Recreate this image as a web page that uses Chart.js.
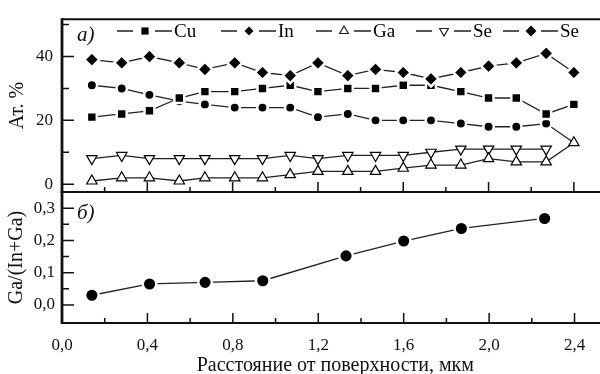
<!DOCTYPE html>
<html>
<head>
<meta charset="utf-8">
<script src="https://cdn.jsdelivr.net/npm/chart.js"></script>
<style>
  html, body { margin: 0; padding: 0; background: #fff; }
  #wrap { position: relative; width: 600px; height: 374px; overflow: hidden; }
  #wrap canvas { position: absolute; left: 0; top: 0; }
</style>
</head>
<body>
<div id="wrap">
  <canvas id="topChart" width="618" height="374"></canvas>
  <canvas id="bottomChart" width="618" height="374"></canvas>
</div>
<script>
// depth below surface, um
const depth = [0.14, 0.28, 0.41, 0.55, 0.67, 0.81, 0.94, 1.07, 1.2, 1.34, 1.47, 1.6, 1.73, 1.87, 2.0, 2.13, 2.27, 2.4];
const cuPct = [21, 22, 23, 27, 29, 29, 30, 31, 29, 30, 30, 31, 31, 29, 27, 27, 22, 25];
const inPct = [31, 30, 28, 26, 25, 24, 24, 24, 21, 22, 20, 20, 20, 19, 18, 18, 19, 13];
const gaPct = [1, 2, 2, 1, 2, 2, 2, 3, 4, 4, 4, 5, 6, 6, 8, 7, 7, 13];
const seOpenPct = [8, 9, 8, 8, 8, 8, 8, 9, 8, 9, 9, 9, 10, 11, 11, 11, 11];
const sePct = [39, 38, 40, 38, 36, 38, 35, 34, 38, 34, 36, 35, 33, 35, 37, 38, 41, 35];

const ratioDepth = [0.14, 0.41, 0.67, 0.94, 1.33, 1.6, 1.87, 2.26];
const gaRatio = [0.03, 0.065, 0.07, 0.075, 0.152, 0.198, 0.237, 0.268];

const xTicks = [0, 0.2, 0.4, 0.6, 0.8, 1.0, 1.2, 1.4, 1.6, 1.8, 2.0, 2.2, 2.4];
const topYTicks = [0, 10, 20, 30, 40, 50];
const bottomYTicks = [0, 0.05, 0.1, 0.15, 0.2, 0.25, 0.3, 0.35];
const legendNames = ['Cu', 'In', 'Ga', 'Se', 'Se'];

const SERIF = '"Liberation Serif", "Times New Roman", serif';
const INK = '#111';
const LINE = '#222';

const isStep = (v, step) => Math.abs(v / step - Math.round(v / step)) < 1e-6;
const comma = (v, d) => v.toFixed(d).replace('.', ',');
const toXY = (xs, ys) => ys.map((y, i) => ({ x: xs[i], y }));

// small marker shapes for the in-plot legend
function marker(ctx, style, x, y, r) {
  ctx.beginPath();
  if (style === 'rect') {
    ctx.rect(x - r, y - r, 2 * r, 2 * r);
    ctx.fill();
  } else if (style === 'diamond') {
    ctx.moveTo(x, y - r); ctx.lineTo(x + r, y); ctx.lineTo(x, y + r); ctx.lineTo(x - r, y); ctx.closePath();
    ctx.fill();
  } else if (style === 'up' || style === 'down') {
    const s = style === 'up' ? 1 : -1;
    ctx.moveTo(x, y - s * r);
    ctx.lineTo(x + r * 0.87, y + s * r * 0.5);
    ctx.lineTo(x - r * 0.87, y + s * r * 0.5);
    ctx.closePath();
    ctx.fillStyle = '#fff';
    ctx.fill();
    ctx.lineWidth = 1.2;
    ctx.stroke();
  }
}

// inward ticks, frame lines and the panel letter
const panelDecor = {
  id: 'panelDecor',
  afterDraw(chart, args, opts) {
    const { ctx, chartArea: a, scales } = chart;
    ctx.save();
    ctx.strokeStyle = INK;
    ctx.lineWidth = 1.5;
    ctx.beginPath();
    scales.x.ticks.forEach(t => {
      const px = scales.x.getPixelForValue(t.value);
      const len = isStep(t.value, opts.majorX) ? 10 : 5;
      ctx.moveTo(px, a.bottom);
      ctx.lineTo(px, a.bottom - len);
    });
    scales.y.ticks.forEach(t => {
      const py = scales.y.getPixelForValue(t.value);
      const len = isStep(t.value, opts.majorY) ? 12 : 7;
      ctx.moveTo(a.left, py);
      ctx.lineTo(a.left + len, py);
    });
    ctx.stroke();

    ctx.lineWidth = 2;
    ctx.beginPath();
    ctx.moveTo(a.left, a.bottom); ctx.lineTo(a.right, a.bottom);
    if (opts.topBorder) { ctx.moveTo(a.left, a.top); ctx.lineTo(a.right, a.top); }
    ctx.stroke();
    ctx.lineWidth = 2.8;
    ctx.beginPath();
    ctx.moveTo(a.left, a.top - 1); ctx.lineTo(a.left, a.bottom + 1);
    ctx.stroke();

    ctx.fillStyle = INK;
    ctx.font = 'italic 21px ' + SERIF;
    ctx.textBaseline = 'middle';
    ctx.fillText(opts.label, a.left + 15, a.top + opts.labelDy);
    ctx.restore();
  }
};

// legend row inside the top panel
const rowLegend = {
  id: 'rowLegend',
  afterDraw(chart, args, opts) {
    if (!opts.items) return;
    const { ctx } = chart;
    ctx.save();
    ctx.strokeStyle = LINE;
    ctx.fillStyle = '#000';
    ctx.font = '19px ' + SERIF;
    ctx.textBaseline = 'middle';
    opts.items.forEach((it, i) => {
      const sx = it.x, y = opts.y;
      ctx.lineWidth = 1.3;
      ctx.beginPath();
      ctx.moveTo(sx, y); ctx.lineTo(sx + 16, y);
      ctx.moveTo(sx + 38, y); ctx.lineTo(sx + 55, y);
      ctx.stroke();
      ctx.fillStyle = '#000';
      marker(ctx, it.style, sx + 28, y, it.r);
      ctx.fillStyle = '#000';
      ctx.fillText(legendNames[i], sx + 57, y + 1);
    });
    ctx.restore();
  }
};

const tickFont = { family: SERIF, size: 17 };
const titleFont = { family: SERIF, size: 20 };

function xScale(showLabels) {
  return {
    type: 'linear', min: 0, max: 2.56,
    afterBuildTicks: s => { s.ticks = xTicks.map(v => ({ value: v })); },
    afterFit: s => { s.height = showLabels ? 51 : 0; },
    grid: { display: false, drawTicks: false },
    border: { display: false },
    ticks: {
      display: showLabels, autoSkip: false, maxRotation: 0, padding: 12,
      color: INK, font: tickFont,
      callback: v => isStep(v, 0.4) ? comma(v, 1) : ''
    },
    title: {
      display: showLabels, text: 'Расстояние от поверхности, мкм',
      color: INK, font: titleFont, padding: { top: 0, bottom: -4 }
    }
  };
}

const filledPoint = {
  pointBackgroundColor: '#000',
  pointBorderColor: '#fff',
  pointBorderWidth: 2.5,
  borderColor: LINE,
  borderWidth: 1.3
};
const openPoint = {
  pointBackgroundColor: '#fff',
  pointBorderColor: '#000',
  pointBorderWidth: 1.2,
  borderColor: LINE,
  borderWidth: 1.3
};

new Chart(document.getElementById('topChart'), {
  type: 'line',
  data: {
    datasets: [
      { label: 'Se', data: toXY(depth, sePct), ...filledPoint, pointStyle: 'rectRot', pointRadius: 7.5 },
      { label: 'Cu', data: toXY(depth, cuPct), ...filledPoint, pointStyle: 'rect', pointRadius: 7 },
      { label: 'Ga', data: toXY(depth, gaPct), ...openPoint, pointStyle: 'triangle', pointRadius: 6 },
      { label: 'Se', data: toXY(depth, seOpenPct), ...openPoint, pointStyle: 'triangle', pointRotation: 180, pointRadius: 6 },
      { label: 'In', data: toXY(depth, inPct), ...filledPoint, pointStyle: 'circle',
        pointRadius: c => c.dataIndex === inPct.length - 1 ? 0 : 5.2 }
    ]
  },
  options: {
    responsive: false,
    devicePixelRatio: 1,
    animation: false,
    events: [],
    layout: { padding: { top: 15, right: 0, bottom: 182, left: 0 } },
    plugins: {
      legend: { display: false },
      tooltip: { enabled: false },
      panelDecor: { label: 'a)', labelDy: 16, majorX: 0.4, majorY: 20, topBorder: true },
      rowLegend: {
        y: 31,
        items: [
          { x: 117, style: 'rect', r: 3.6 },
          { x: 221, style: 'diamond', r: 4.5 },
          { x: 316, style: 'up', r: 5 },
          { x: 416, style: 'down', r: 5 },
          { x: 503, style: 'diamond', r: 5.5 }
        ]
      }
    },
    scales: {
      x: xScale(false),
      y: {
        min: -2.45, max: 51.7,
        afterBuildTicks: s => { s.ticks = topYTicks.map(v => ({ value: v })); },
        afterFit: s => { s.width = 62; },
        grid: { display: false, drawTicks: false },
        border: { display: false },
        ticks: {
          autoSkip: false, padding: 9, color: INK, font: tickFont,
          callback: v => isStep(v, 20) ? String(v) : ''
        },
        title: { display: true, text: 'Ат. %', color: INK, font: titleFont, padding: { top: 6, bottom: 0 } }
      }
    }
  },
  plugins: [panelDecor, rowLegend]
});

new Chart(document.getElementById('bottomChart'), {
  type: 'line',
  data: {
    datasets: [
      { label: 'Ga/(In+Ga)', data: toXY(ratioDepth, gaRatio), ...filledPoint, pointStyle: 'circle', pointRadius: 6.8 }
    ]
  },
  options: {
    responsive: false,
    devicePixelRatio: 1,
    animation: false,
    events: [],
    layout: { padding: { top: 192, right: 0, bottom: 0, left: 0 } },
    plugins: {
      legend: { display: false },
      tooltip: { enabled: false },
      panelDecor: { label: 'б)', labelDy: 21, majorX: 0.4, majorY: 0.1, topBorder: true }
    },
    scales: {
      x: xScale(true),
      y: {
        min: -0.056, max: 0.35,
        afterBuildTicks: s => { s.ticks = bottomYTicks.map(v => ({ value: v })); },
        afterFit: s => { s.width = 62; },
        grid: { display: false, drawTicks: false },
        border: { display: false },
        ticks: {
          autoSkip: false, padding: 7, color: INK, font: tickFont,
          callback: v => isStep(v, 0.1) ? comma(v, 1) : ''
        },
        title: { display: true, text: 'Ga/(In+Ga)', color: INK, font: titleFont, padding: { top: 5, bottom: 0 } }
      }
    }
  },
  plugins: [panelDecor]
});
</script>
</body>
</html>
